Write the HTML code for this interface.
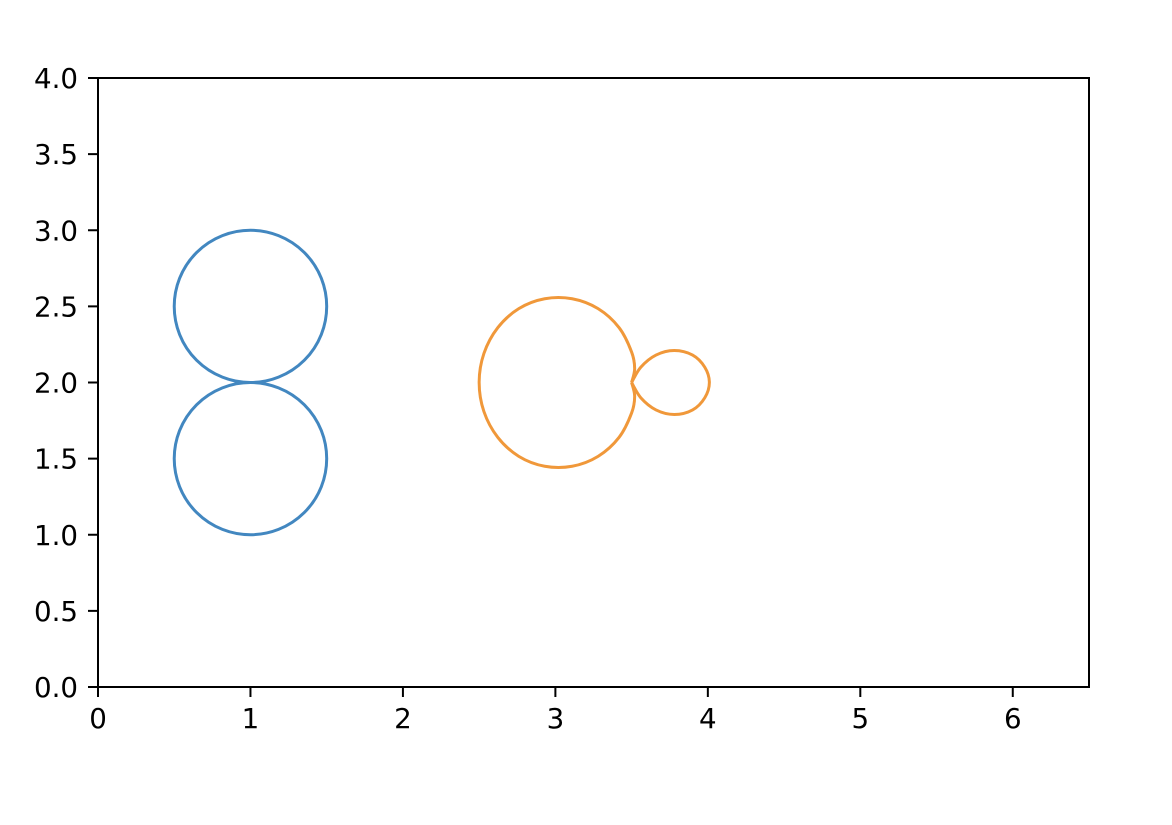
<!DOCTYPE html>
<html><head><meta charset="utf-8"><style>
body{margin:0;background:#fff;}
svg text{font-family:"DejaVu Sans","Liberation Sans",sans-serif;font-size:27.7px;fill:#000;}
</style></head><body>
<svg id="chart" width="1172" height="820" xmlns="http://www.w3.org/2000/svg"></svg>
<script>
const xTicks=[0,1,2,3,4,5,6];
const yTicks=[0.0,0.5,1.0,1.5,2.0,2.5,3.0,3.5,4.0];
const yTickLabels=["0.0","0.5","1.0","1.5","2.0","2.5","3.0","3.5","4.0"];
const blueCircles=[[1,2.5,0.5],[1,1.5,0.5]];
const orangeBigLoop=[[3.5,2.0],[3.52,1.91],[3.5,1.8],[3.418,1.64],[3.28,1.515],[3.11,1.45],[2.93,1.45],[2.76,1.515],[2.622,1.64],[2.531,1.81],[2.5,2.0],[2.531,2.19],[2.622,2.36],[2.76,2.485],[2.93,2.55],[3.11,2.55],[3.28,2.485],[3.418,2.36],[3.5,2.2],[3.52,2.09],[3.5,2.0]];
const orangeSmallLoop=[[3.5,2.0],[3.56,2.1],[3.66,2.18],[3.78,2.21],[3.9,2.18],[3.98,2.1],[4.01,2.0],[3.98,1.9],[3.9,1.82],[3.78,1.79],[3.66,1.82],[3.56,1.9],[3.5,2.0]];

const X0=98,X1=1089,Y0=687,Y1=78;
const sx=v=>X0+(v-0)/(6.5-0)*(X1-X0);
const sy=v=>Y0-(v-0)/(4-0)*(Y0-Y1);
const svg=document.getElementById('chart');
const NS='http://www.w3.org/2000/svg';
function mk(tag,attrs){const e=document.createElementNS(NS,tag);for(const k in attrs)e.setAttribute(k,attrs[k]);svg.appendChild(e);return e;}

const frame=mk('rect',{x:X0,y:Y1,width:X1-X0,height:Y0-Y1,fill:'none',stroke:'#000','stroke-width':2});



xTicks.forEach(t=>{
  const l=mk('line',{x1:sx(t),x2:sx(t),y1:Y0,y2:Y0+10,stroke:'#000','stroke-width':2});
  
  
  const tx=mk('text',{x:sx(t),y:728,'text-anchor':'middle'});tx.textContent=String(t);
  
  
});
yTicks.forEach((t,i)=>{
  const l=mk('line',{x1:X0-10,x2:X0,y1:sy(t),y2:sy(t),stroke:'#000','stroke-width':2});
  
  
  const tx=mk('text',{x:78,y:sy(t)+10,'text-anchor':'end'});tx.textContent=yTickLabels[i];
  
  
});

blueCircles.forEach(c=>{
  const e=mk('ellipse',{cx:sx(c[0]),cy:sy(c[1]),rx:sx(c[2])-sx(0),ry:sy(0)-sy(c[2]),fill:'none',stroke:'#4287c0','stroke-width':3});
  
  
});

function crPath(pts){
  const p=pts.map(q=>[sx(q[0]),sy(q[1])]);
  let d='M'+p[0][0]+','+p[0][1];
  for(let i=0;i<p.length-1;i++){
    const a=p[Math.max(i-1,0)],b=p[i],c=p[i+1],e=p[Math.min(i+2,p.length-1)];
    const c1=[b[0]+(c[0]-a[0])/6,b[1]+(c[1]-a[1])/6];
    const c2=[c[0]-(e[0]-b[0])/6,c[1]-(e[1]-b[1])/6];
    d+=' C'+c1[0]+','+c1[1]+' '+c2[0]+','+c2[1]+' '+c[0]+','+c[1];
  }
  return d;
}
[orangeBigLoop,orangeSmallLoop].forEach((pts,i)=>{
  const e=mk('path',{d:crPath(pts),fill:'none',stroke:'#f0983a','stroke-width':3,'stroke-linejoin':'round'});
  
  
});
</script>
</body></html>
